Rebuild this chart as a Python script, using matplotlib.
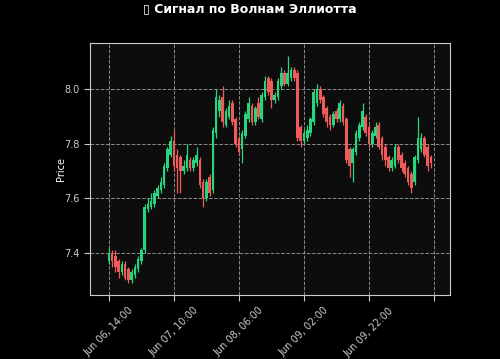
import matplotlib
matplotlib.use("Agg")
import matplotlib.pyplot as plt
import numpy as np
from datetime import datetime, timedelta

# hourly candles starting Jun 06, 14:00
start = datetime(2024, 6, 6, 14, 0)

opens = [7.37, 7.40, 7.39, 7.37, 7.33, 7.36, 7.34, 7.30, 7.32, 7.34,
         7.37, 7.41, 7.56, 7.57, 7.58, 7.61, 7.63, 7.65, 7.71, 7.76,
         7.81, 7.76, 7.75, 7.70, 7.71, 7.74, 7.71, 7.73, 7.74, 7.66,
         7.60, 7.68, 7.63, 7.84, 7.92, 7.97, 7.87, 7.90, 7.95, 7.89,
         7.82, 7.78, 7.83, 7.89, 7.94, 7.88, 7.95, 7.89, 7.97, 8.04,
         8.03, 7.96, 7.97, 8.01, 8.06, 8.02, 8.04, 8.07, 8.06, 7.86,
         7.81, 7.82, 7.84, 7.88, 7.95, 8.00, 7.97, 7.93, 7.90, 7.87,
         7.92, 7.89, 7.94, 7.89, 7.78, 7.73, 7.77, 7.82, 7.86, 7.90,
         7.86, 7.80, 7.83, 7.87, 7.82, 7.79, 7.75, 7.71, 7.72, 7.79,
         7.76, 7.73, 7.71, 7.69, 7.66, 7.74, 7.78, 7.82, 7.79, 7.75]
closes = [7.40, 7.37, 7.35, 7.33, 7.36, 7.31, 7.30, 7.33, 7.35, 7.38,
          7.41, 7.57, 7.58, 7.59, 7.62, 7.64, 7.66, 7.72, 7.78, 7.81,
          7.72, 7.71, 7.70, 7.72, 7.76, 7.71, 7.74, 7.76, 7.65, 7.60,
          7.66, 7.62, 7.85, 7.97, 7.96, 7.88, 7.92, 7.94, 7.88, 7.80,
          7.77, 7.84, 7.91, 7.95, 7.88, 7.93, 7.90, 7.98, 8.03, 7.99,
          7.96, 7.98, 8.03, 8.06, 8.02, 8.06, 8.07, 8.04, 7.82, 7.81,
          7.84, 7.85, 7.89, 7.99, 8.00, 7.96, 7.91, 7.88, 7.87, 7.91,
          7.89, 7.95, 7.88, 7.74, 7.72, 7.78, 7.84, 7.87, 7.92, 7.84,
          7.80, 7.84, 7.86, 7.79, 7.76, 7.74, 7.71, 7.74, 7.79, 7.74,
          7.71, 7.69, 7.66, 7.64, 7.75, 7.82, 7.82, 7.76, 7.72, 7.73]
highs = [7.42, 7.41, 7.41, 7.38, 7.37, 7.37, 7.35, 7.34, 7.36, 7.39,
         7.42, 7.58, 7.60, 7.62, 7.63, 7.65, 7.68, 7.73, 7.79, 7.83,
         7.85, 7.78, 7.76, 7.74, 7.80, 7.75, 7.75, 7.79, 7.75, 7.67,
         7.67, 7.69, 7.86, 8.00, 7.98, 8.01, 7.93, 7.96, 7.96, 7.90,
         7.83, 7.85, 7.92, 7.97, 7.95, 7.94, 7.97, 7.99, 8.05, 8.05,
         8.04, 7.99, 8.04, 8.08, 8.07, 8.12, 8.08, 8.08, 8.07, 7.87,
         7.85, 7.87, 7.90, 8.00, 8.02, 8.01, 7.98, 7.94, 7.91, 7.92,
         7.93, 7.96, 7.95, 7.90, 7.79, 7.79, 7.85, 7.88, 7.95, 7.91,
         7.87, 7.85, 7.88, 7.88, 7.83, 7.80, 7.76, 7.75, 7.80, 7.80,
         7.77, 7.74, 7.72, 7.70, 7.76, 7.90, 7.84, 7.83, 7.80, 7.76]
lows = [7.36, 7.35, 7.33, 7.31, 7.32, 7.30, 7.29, 7.29, 7.31, 7.33,
        7.36, 7.40, 7.55, 7.56, 7.57, 7.60, 7.62, 7.64, 7.70, 7.75,
        7.70, 7.62, 7.62, 7.69, 7.70, 7.70, 7.70, 7.72, 7.64, 7.57,
        7.59, 7.61, 7.62, 7.82, 7.90, 7.86, 7.86, 7.89, 7.87, 7.79,
        7.76, 7.73, 7.82, 7.88, 7.87, 7.87, 7.89, 7.88, 7.96, 7.98,
        7.93, 7.95, 7.96, 8.00, 8.01, 8.01, 8.03, 8.03, 7.81, 7.79,
        7.80, 7.81, 7.83, 7.87, 7.94, 7.95, 7.90, 7.86, 7.85, 7.86,
        7.88, 7.88, 7.87, 7.73, 7.68, 7.66, 7.76, 7.81, 7.85, 7.83,
        7.79, 7.79, 7.82, 7.78, 7.74, 7.72, 7.70, 7.70, 7.71, 7.73,
        7.70, 7.68, 7.65, 7.62, 7.65, 7.73, 7.77, 7.75, 7.70, 7.71]

up_color = "#26d67f"
down_color = "#ef5a5a"

o = np.array(opens)
c = np.array(closes)
h = np.array(highs)
l = np.array(lows)
idx = np.arange(len(c))
colors = [up_color if cc >= oo else down_color for oo, cc in zip(o, c)]

fig = plt.figure(figsize=(5, 3.59), dpi=100, facecolor="black")
ax = fig.add_axes([0.18, 0.178, 0.72, 0.702])
ax.set_facecolor("#0d0d0d")

ax.vlines(idx, l, h, colors=colors, linewidth=0.9, zorder=3)
body = np.maximum(np.abs(c - o), 0.004)
ax.bar(idx, body, bottom=np.minimum(o, c), width=0.8, color=colors,
       linewidth=0, zorder=4)

ax.set_xlim(-5.8, 104.9)
ax.set_ylim(7.246, 8.169)

tick_pos = list(range(0, 101, 20))
tick_labels = []
for p in tick_pos:
    if p < len(c):
        tick_labels.append((start + timedelta(hours=p)).strftime("%b %d, %H:%M"))
    else:
        tick_labels.append("")
ax.set_xticks(tick_pos)
ax.set_xticklabels(tick_labels, rotation=45, ha="center",
                   fontsize=7, color="white")
ax.set_yticks([7.4, 7.6, 7.8, 8.0])
ax.set_yticklabels(["7.4", "7.6", "7.8", "8.0"], fontsize=7, color="white")
ax.tick_params(colors="#cccccc", length=4)
ax.set_ylabel("Price", color="white", fontsize=7, labelpad=-1)

ax.grid(True, color="#a0a0a0", linestyle="--", linewidth=0.7, alpha=0.85)
ax.set_axisbelow(True)
for s in ax.spines.values():
    s.set_color("#cccccc")
    s.set_linewidth(0.8)

fig.suptitle("▯ Сигнал по Волнам Эллиотта", color="white", fontsize=9,
             fontweight="bold", y=0.995)

fig.savefig("out.png", dpi=100, facecolor="black")
